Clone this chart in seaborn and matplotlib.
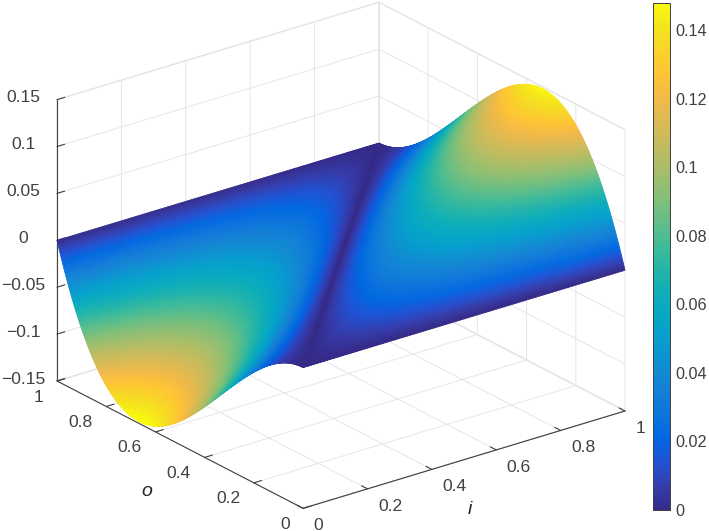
import numpy as np
import matplotlib
matplotlib.use("Agg")
import matplotlib.pyplot as plt
import seaborn as sns
from mpl_toolkits.mplot3d import proj3d

# surface height along the two edges i=0 and i=1, o = 0 ... 1 in steps of 0.025
o_values = [0, .025, .05, .075, .1, .125, .15, .175, .2, .225, .25, .275, .3, .325,
            .35, .375, .4, .425, .45, .475, .5, .525, .55, .575, .6, .625, .65, .675,
            .7, .725, .75, .775, .8, .825, .85, .875, .9, .925, .95, .975, 1]
z_at_i0 = [0, -.0006, -.0024, -.0052, -.009, -.0137, -.0191, -.0253, -.032, -.0392,
           -.0469, -.0548, -.063, -.0713, -.0796, -.0879, -.096, -.1039, -.1114, -.1185,
           -.125, -.1309, -.1361, -.1405, -.144, -.1465, -.1479, -.1481, -.147, -.1445,
           -.1406, -.1352, -.128, -.1192, -.1084, -.0957, -.081, -.0642, -.0451, -.0238, 0]
z_at_i1 = [0, .0238, .0451, .0642, .081, .0957, .1084, .1192, .128, .1352, .1406, .1445,
           .147, .1481, .1479, .1465, .144, .1405, .1361, .1309, .125, .1185, .1114,
           .1039, .096, .0879, .0796, .0713, .063, .0548, .0469, .0392, .032, .0253,
           .0191, .0137, .0091, .0052, .0024, .0006, 0]

axis_ticks = [0, .2, .4, .6, .8, 1]
axis_labels = ["0", "0.2", "0.4", "0.6", "0.8", "1"]
z_ticks = [-.15, -.1, -.05, 0, .05, .1, .15]
z_labels = ["\u22120.15", "\u22120.1", "\u22120.05", "0", "0.05", "0.1", "0.15"]
cbar_ticks = [0, .02, .04, .06, .08, .1, .12, .14]
cbar_labels = ["0", "0.02", "0.04", "0.06", "0.08", "0.1", "0.12", "0.14"]
cbar_max = 0.148

parula = ["#352A87", "#353DAD", "#2053D4", "#0268E1", "#0D75DC", "#1481D6", "#108ED2",
          "#079DCF", "#06A7C6", "#0FAEB9", "#25B5A9", "#42BB98", "#65BE86", "#87BF77",
          "#A5BE6B", "#C0BC60", "#D9BA56", "#F1B94A", "#FFC337", "#F9D32A", "#F5E41D",
          "#F9FB0E"]

sns.set_theme(style="white")
plt.rcParams["font.family"] = ["Liberation Sans", "DejaVu Sans"]
plt.rcParams["grid.color"] = "#e6e6e6"
plt.rcParams["grid.linewidth"] = 0.7
plt.rcParams["axes.edgecolor"] = "#404040"

cmap = sns.blend_palette(parula, as_cmap=True).resampled(2048)
norm = plt.Normalize(0, cbar_max)

W, H = 709, 531
fig = plt.figure(figsize=(W / 100, H / 100), dpi=100)
ax = fig.add_axes([0, 0, H / W, 1], projection="3d", proj_type="ortho")
ax.view_init(elev=23.3, azim=-127.4)
ax.set_box_aspect((1, 1, 0.756))
ax.set_xlim(0, 1, view_margin=0)
ax.set_ylim(0, 1, view_margin=0)
ax.set_zlim(-0.15, 0.15, view_margin=0)

# finer mesh for drawing only: smooth curve through the edge readings,
# the surface is a straight line from edge i=0 to edge i=1
o_fine = np.linspace(0, 1, 481)
i_fine = np.linspace(0, 1, 121)
edge0 = np.polyval(np.polyfit(o_values, z_at_i0, 5), o_fine)
edge1 = np.polyval(np.polyfit(o_values, z_at_i1, 5), o_fine)
X, Y = np.meshgrid(i_fine, o_fine)
Z = np.outer(edge0, 1 - i_fine) + np.outer(edge1, i_fine)

ax.plot_surface(X, Y, Z, facecolors=cmap(norm(np.abs(Z))), rstride=1, cstride=1,
                shade=False, linewidth=0.5, antialiased=True)

ax.set_xticks(axis_ticks, axis_labels)
ax.set_yticks(axis_ticks, axis_labels)
ax.set_zticks(z_ticks, z_labels)
for axis in (ax.xaxis, ax.yaxis, ax.zaxis):
    axis.set_pane_color((1, 1, 1, 1))
    axis.pane.set_edgecolor("#e6e6e6")
    axis.line.set_color("#404040")
    axis.line.set_linewidth(0.8)
    axis._axinfo["tick"].update(inward_factor=0, outward_factor=0.3, linewidth={True: 0.8, False: 0.5})
ax.tick_params(axis="both", labelsize=12.6, labelcolor="#404040", color="#404040")
ax.tick_params(axis="x", pad=2)
ax.tick_params(axis="y", pad=2)
ax.tick_params(axis="z", pad=6)
for t in ax.xaxis.get_ticklabels():
    t.set_ha("left")
    t.set_va("center")
for t in ax.yaxis.get_ticklabels():
    t.set_ha("right")
    t.set_va("center")
for t in ax.zaxis.get_ticklabels():
    t.set_va("center")
fig.text(470 / W, 1 - 510 / H, "i", fontsize=14, fontstyle="italic", color="#262626",
         ha="center", va="center")
fig.text(147 / W, 1 - 491 / H, "o", fontsize=14, fontstyle="italic", color="#262626",
         ha="center", va="center")

# line the box up with the corners of the reference
fig.canvas.draw()


def corner_px(x, y, z):
    px, py, _ = proj3d.proj_transform(x, y, z, ax.get_proj())
    return ax.transData.transform((px, py))


a = corner_px(0, 1, -0.15)
b = corner_px(1, 0, -0.15)
target_a = np.array([57, H - 381.0])
target_b = np.array([625, H - 411.5])
scale = np.linalg.norm(target_b - target_a) / np.linalg.norm(b - a)
side = H * scale
left = target_a[0] - scale * a[0]
bottom = target_a[1] - scale * a[1]
ax.set_position([left / W, bottom / H, side / W, side / H])

cax = fig.add_axes([652.5 / W, (H - 510) / H, 17.5 / W, 507.3 / H])
cb = fig.colorbar(plt.cm.ScalarMappable(norm=norm, cmap=cmap), cax=cax)
cb.set_ticks(cbar_ticks, labels=cbar_labels)
cb.ax.tick_params(direction="in", length=3, width=0.7, color="#404040", labelsize=11.7,
                  labelcolor="#404040", pad=4, right=True)
cb.outline.set_edgecolor("#404040")
cb.outline.set_linewidth(0.7)

fig.savefig("out.png", dpi=100, facecolor="white")
